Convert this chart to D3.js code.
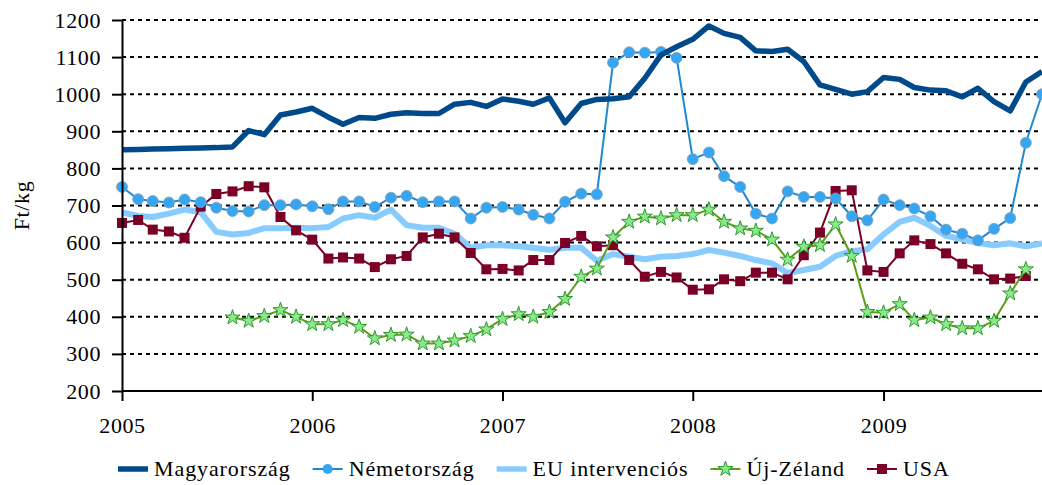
<!DOCTYPE html>
<html>
<head>
<meta charset="utf-8">
<script src="https://cdn.jsdelivr.net/npm/d3@7"></script>
<style>
  body { margin: 0; background: #fff; }
  svg { display: block; font-family: "Liberation Serif", "Times New Roman", serif; }
  text { fill: #000; letter-spacing: 0.6px; }
</style>
</head>
<body>
<svg></svg>
<script>
// monthly prices, Ft/kg, from Jan 2005
const startMonth = new Date(2005, 0, 1);
const years = [2005, 2006, 2007, 2008, 2009];
const yTicks = [200, 300, 400, 500, 600, 700, 800, 900, 1000, 1100, 1200];

const magyarorszag = [850, 851, 852, 853, 854, 855, 856, 858, 902, 891, 944, 952,
  962, 938, 919, 937, 935, 946, 950, 948, 948, 973, 978, 967,
  987, 981, 973, 990, 923, 975, 986, 988, 993, 1043, 1106, 1128,
  1148, 1184, 1164, 1153, 1117, 1115, 1121, 1088, 1025, 1013, 1000, 1007,
  1045, 1040, 1018, 1011, 1009, 993, 1016, 980, 955, 1033, 1061];

const nemetorszag = [750, 717, 712, 708, 716, 709, 694, 685, 684, 701, 701, 703,
  698, 690, 711, 711, 696, 721, 726, 709, 711, 711, 665, 694,
  696, 689, 675, 665, 710, 732, 730, 1085, 1113, 1112, 1114, 1098,
  825, 843, 779, 750, 678, 665, 738, 723, 723, 719, 671, 660,
  716, 701, 692, 671, 635, 624, 606, 637, 666, 869, 1000];

const euIntervencios = [681, 672, 669, 678, 689, 682, 629, 622, 626, 639, 639, 640,
  639, 642, 665, 674, 667, 689, 647, 640, 640, 624, 586, 593,
  593, 590, 586, 581, 586, 586, 551, 569, 562, 555, 562, 564,
  569, 580, 573, 564, 553, 544, 518, 526, 535, 564, 577, 582,
  622, 656, 667, 645, 618, 609, 599, 593, 598, 590, 598];

const ujZeland = [null, null, null, null, null, null, null, 398, 389, 402, 418, 400,
  380, 380, 391, 373, 342, 351, 352, 328, 328, 336, 348, 366,
  394, 407, 400, 413, 448, 508, 530, 614, 656, 670, 665, 674,
  674, 689, 656, 638, 632, 608, 554, 589, 593, 649, 564, 413,
  411, 434, 391, 398, 380, 369, 369, 389, 463, 528, null];

const usa = [653, 661, 635, 630, 613, 697, 731, 738, 752, 749, 669, 633,
  608, 557, 560, 557, 534, 555, 564, 614, 624, 614, 572, 528,
  529, 525, 553, 553, 599, 618, 590, 593, 553, 508, 521, 506,
  473, 474, 501, 496, 519, 519, 501, 566, 627, 739, 741, 525,
  521, 571, 606, 596, 571, 543, 528, 501, 503, 510];

const width = 1042, height = 485;
const margin = {top: 20, right: 0, bottom: 94, left: 122};
const fontSize = "22px";

const svg = d3.select("svg")
  .attr("width", width)
  .attr("height", height);

const toPoints = arr => arr.map((v, i) => ({date: d3.timeMonth.offset(startMonth, i), value: v}));

const x = d3.scaleTime()
  .domain([startMonth, new Date(2009, 10, 1)])
  .range([margin.left, width - margin.right]);

const y = d3.scaleLinear()
  .domain([200, 1200])
  .range([height - margin.bottom, margin.top]);

// dashed grid
svg.append("g")
  .selectAll("line")
  .data(yTicks.slice(1))
  .enter()
  .append("line")
  .attr("x1", margin.left)
  .attr("x2", width)
  .attr("y1", d => y(d))
  .attr("y2", d => y(d))
  .style("stroke", "#000")
  .style("stroke-width", 2)
  .style("stroke-dasharray", "4 4");

const line = d3.line()
  .defined(d => d.value != null)
  .x(d => x(d.date))
  .y(d => y(d.value));

// EU
svg.append("path")
  .datum(toPoints(euIntervencios))
  .attr("d", line)
  .style("fill", "none")
  .style("stroke", "#88CCFF")
  .style("stroke-width", 6)
  .style("stroke-linejoin", "round");

// USA
const usaPts = toPoints(usa);
svg.append("path")
  .datum(usaPts)
  .attr("d", line)
  .style("fill", "none")
  .style("stroke", "#7B0026")
  .style("stroke-width", 2);
svg.append("g")
  .selectAll("rect")
  .data(usaPts)
  .enter()
  .append("rect")
  .attr("x", d => x(d.date) - 5)
  .attr("y", d => y(d.value) - 5)
  .attr("width", 10)
  .attr("height", 10)
  .style("fill", "#7B0026");

// Uj-Zeland
const nzPts = toPoints(ujZeland).filter(d => d.value != null);
svg.append("path")
  .datum(nzPts)
  .attr("d", line)
  .style("fill", "none")
  .style("stroke", "#5E9E1A")
  .style("stroke-width", 2);
const star = d3.symbol().type(d3.symbolStar).size(70);
svg.append("g")
  .selectAll("path")
  .data(nzPts)
  .enter()
  .append("path")
  .attr("d", star)
  .attr("transform", d => `translate(${x(d.date)},${y(d.value)})`)
  .style("fill", "#8BE98B")
  .style("stroke", "#2A9A2A")
  .style("stroke-width", 1);

// Nemetorszag
const dePts = toPoints(nemetorszag);
svg.append("path")
  .datum(dePts)
  .attr("d", line)
  .style("fill", "none")
  .style("stroke", "#1E88D4")
  .style("stroke-width", 2);
svg.append("g")
  .selectAll("circle")
  .data(dePts)
  .enter()
  .append("circle")
  .attr("cx", d => x(d.date))
  .attr("cy", d => y(d.value))
  .attr("r", 5.5)
  .style("fill", "#36A6F2")
  .style("stroke", "#8aa0b0")
  .style("stroke-width", 0.8);

// Magyarorszag
svg.append("path")
  .datum(toPoints(magyarorszag))
  .attr("d", line)
  .style("fill", "none")
  .style("stroke", "#004A8C")
  .style("stroke-width", 5.5)
  .style("stroke-linejoin", "round");

// axes
const yAxis = svg.append("g")
  .attr("transform", `translate(${margin.left},0)`)
  .call(d3.axisLeft(y).tickValues(yTicks).tickFormat(d3.format("d"))
    .tickSize(10).tickSizeOuter(0).tickPadding(11));

const xAxis = svg.append("g")
  .attr("transform", `translate(0,${height - margin.bottom})`)
  .call(d3.axisBottom(x).tickValues(years.map(yr => new Date(yr, 0, 1)))
    .tickFormat(d3.timeFormat("%Y")).tickSize(10).tickSizeOuter(0).tickPadding(16));

[yAxis, xAxis].forEach(ax => {
  ax.attr("font-family", null).attr("font-size", null);
  ax.selectAll("path, line").style("stroke", "#000").style("stroke-width", 2);
  ax.selectAll("text").style("font-size", fontSize);
});
xAxis.select(".domain").attr("d", `M${margin.left},0H${width}`);

svg.append("text")
  .attr("transform", `translate(29,${y(700)}) rotate(-90)`)
  .attr("text-anchor", "middle")
  .style("font-size", fontSize)
  .text("Ft/kg");

// legend
const legendItems = [
  {name: "Magyarország", kind: "thick", color: "#004A8C"},
  {name: "Németország", kind: "circle", color: "#1E88D4", fill: "#36A6F2"},
  {name: "EU intervenciós", kind: "thick", color: "#88CCFF"},
  {name: "Új-Zéland", kind: "star", color: "#5E9E1A", fill: "#8BE98B"},
  {name: "USA", kind: "square", color: "#7B0026"}
];

const legend = svg.append("g").attr("transform", "translate(118,469)");
let lx = 0;
legendItems.forEach(item => {
  const g = legend.append("g").attr("transform", `translate(${lx},0)`);
  g.append("line")
    .attr("x1", 0).attr("x2", 30)
    .style("stroke", item.color)
    .style("stroke-width", item.kind === "thick" ? 5.5 : 2);
  if (item.kind === "circle") {
    g.append("circle").attr("cx", 15).attr("r", 5).style("fill", item.fill);
  } else if (item.kind === "square") {
    g.append("rect").attr("x", 10).attr("y", -5).attr("width", 10).attr("height", 10).style("fill", item.color);
  } else if (item.kind === "star") {
    g.append("path").attr("d", star).attr("transform", "translate(15,0)")
      .style("fill", item.fill).style("stroke", "#2A9A2A").style("stroke-width", 1);
  }
  const t = g.append("text")
    .attr("x", 36)
    .attr("y", 7)
    .style("font-size", fontSize)
    .style("letter-spacing", "0.9px")
    .text(item.name);
  lx += 36 + t.node().getComputedTextLength() + 22;
});
</script>
</body>
</html>
